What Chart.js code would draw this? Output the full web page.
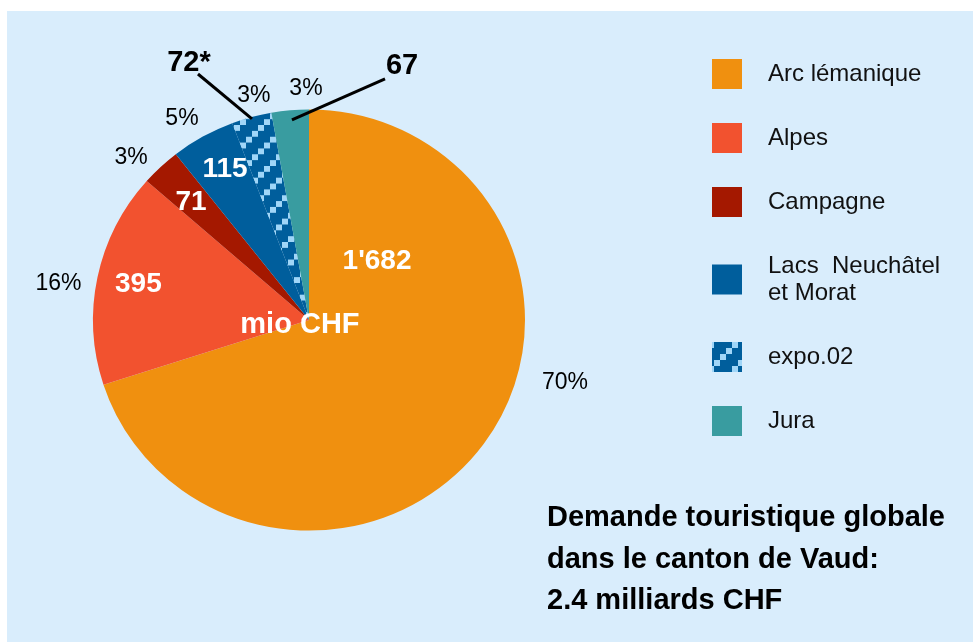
<!DOCTYPE html>
<html>
<head>
<meta charset="utf-8">
<script src="https://cdn.jsdelivr.net/npm/chart.js@4.4.0/dist/chart.umd.min.js"></script>
<style>
  html, body { margin: 0; padding: 0; background: #ffffff; }
  #wrap { position: relative; width: 973px; height: 642px; overflow: hidden; }
  #panel { position: absolute; left: 7px; top: 11px; right: 0; bottom: 0; background: #d9edfc; }
  canvas { position: absolute; left: 0; top: 0; }
</style>
</head>
<body>
<div id="wrap">
  <div id="panel"></div>
  <canvas id="demandeVaud" width="973" height="642"></canvas>
</div>
<script>
// data (mio CHF)
const regions = ['Arc lémanique', 'Alpes', 'Campagne', ['Lacs  Neuchâtel', 'et Morat'], 'expo.02', 'Jura'];
const demandeMio = [1682, 395, 71, 115, 72, 67];
const valueLabels = ["1'682", '395', '71', '115', '72*', '67'];
const percentLabels = ['70%', '16%', '3%', '5%', '3%', '3%'];
const titleLines = ['Demande touristique globale', 'dans le canton de Vaud:', '2.4 milliards CHF'];
const unitLabel = 'mio CHF';

const FONT = '"Liberation Sans", Arial, Helvetica, sans-serif';

function expoPattern() {
  const c = document.createElement('canvas');
  c.width = 24; c.height = 24;
  const g = c.getContext('2d');
  g.fillStyle = '#005e9c';
  g.fillRect(0, 0, 24, 24);
  g.fillStyle = '#a0d6f8';
  for (let i = 0; i < 4; i++) g.fillRect(i * 6, 18 - i * 6, 6, 6);
  return g.createPattern(c, 'repeat');
}

const colors = ['#f0900f', '#f2522f', '#a41800', '#005e9c', expoPattern(), '#399ca0'];

// label placement, in units of pie radius from the pie centre
const valuePos = [[0.315, -0.273], [-0.79, -0.167], [-0.546, -0.546], [-0.389, -0.699], [-0.556, -1.19], [0.431, -1.176]];
const valueColor = ['#fff', '#fff', '#fff', '#fff', '#000', '#000'];
const pctPos = [[1.185, 0.292], [-1.16, -0.167], [-0.824, -0.75], [-0.588, -0.931], [-0.255, -1.037], [-0.014, -1.069]];
const leaders = { 4: [[-0.514, -1.139], [-0.264, -0.931]], 5: [[0.352, -1.116], [-0.079, -0.926]] };

const squash = {
  id: 'squash',
  beforeDatasetsDraw(chart) {
    const a = chart.getDatasetMeta(0).data[0];
    const ctx = chart.ctx;
    ctx.save();
    ctx.translate(a.x, a.y);
    ctx.scale(1, 0.975);
    ctx.translate(-a.x, -a.y);
  },
  afterDatasetsDraw(chart) { chart.ctx.restore(); }
};

const annotations = {
  id: 'annotations',
  afterDraw(chart) {
    const ctx = chart.ctx;
    const meta = chart.getDatasetMeta(0);
    const a0 = meta.data[0];
    const cx = a0.x, cy = a0.y, r = a0.outerRadius;
    ctx.save();
    ctx.textAlign = 'center';
    ctx.textBaseline = 'middle';

    // leader lines
    ctx.strokeStyle = '#000';
    ctx.lineWidth = 3;
    Object.keys(leaders).forEach(k => {
      const [p, q] = leaders[k];
      ctx.beginPath();
      ctx.moveTo(cx + p[0] * r, cy + p[1] * r);
      ctx.lineTo(cx + q[0] * r, cy + q[1] * r);
      ctx.stroke();
    });

    meta.data.forEach((arc, i) => {
      ctx.font = 'bold 28px ' + FONT;
      ctx.fillStyle = valueColor[i];
      if (valueColor[i] === '#000') ctx.font = 'bold 29px ' + FONT;
      ctx.fillText(valueLabels[i], cx + valuePos[i][0] * r, cy + valuePos[i][1] * r);
      ctx.font = '23px ' + FONT;
      ctx.fillStyle = '#000';
      ctx.fillText(percentLabels[i], cx + pctPos[i][0] * r, cy + pctPos[i][1] * r);
    });

    ctx.font = 'bold 29px ' + FONT;
    ctx.fillStyle = '#fff';
    ctx.fillText(unitLabel, cx - 0.042 * r, cy + 0.023 * r);

    // legend
    ctx.textAlign = 'left';
    let y = 42;
    const ds = chart.data.datasets[0];
    chart.data.labels.forEach((lab, i) => {
      const lines = Array.isArray(lab) ? lab : [lab];
      const h = 64 + (lines.length - 1) * 27;
      const mid = y + h / 2;
      ctx.fillStyle = ds.backgroundColor[i];
      ctx.fillRect(712, mid - 15, 30, 30);
      ctx.fillStyle = '#111';
      ctx.font = '24px ' + FONT;
      lines.forEach((t, j) => {
        ctx.fillText(t, 768, mid - (lines.length - 1) * 13.5 + j * 27);
      });
      y += h;
    });

    // title block
    ctx.font = 'bold 29px ' + FONT;
    ctx.fillStyle = '#000';
    ctx.textBaseline = 'alphabetic';
    titleLines.forEach((t, j) => ctx.fillText(t, 547, 526 + j * 41.5));
    ctx.restore();
  }
};

new Chart(document.getElementById('demandeVaud'), {
  type: 'pie',
  data: {
    labels: regions,
    datasets: [{
      data: demandeMio,
      backgroundColor: colors,
      borderWidth: 0
    }]
  },
  options: {
    responsive: false,
    animation: false,
    layout: { padding: { left: 93, right: 448, top: 104, bottom: 106 } },
    plugins: {
      legend: { display: false },
      tooltip: { enabled: false }
    }
  },
  plugins: [squash, annotations]
});
</script>
</body>
</html>
